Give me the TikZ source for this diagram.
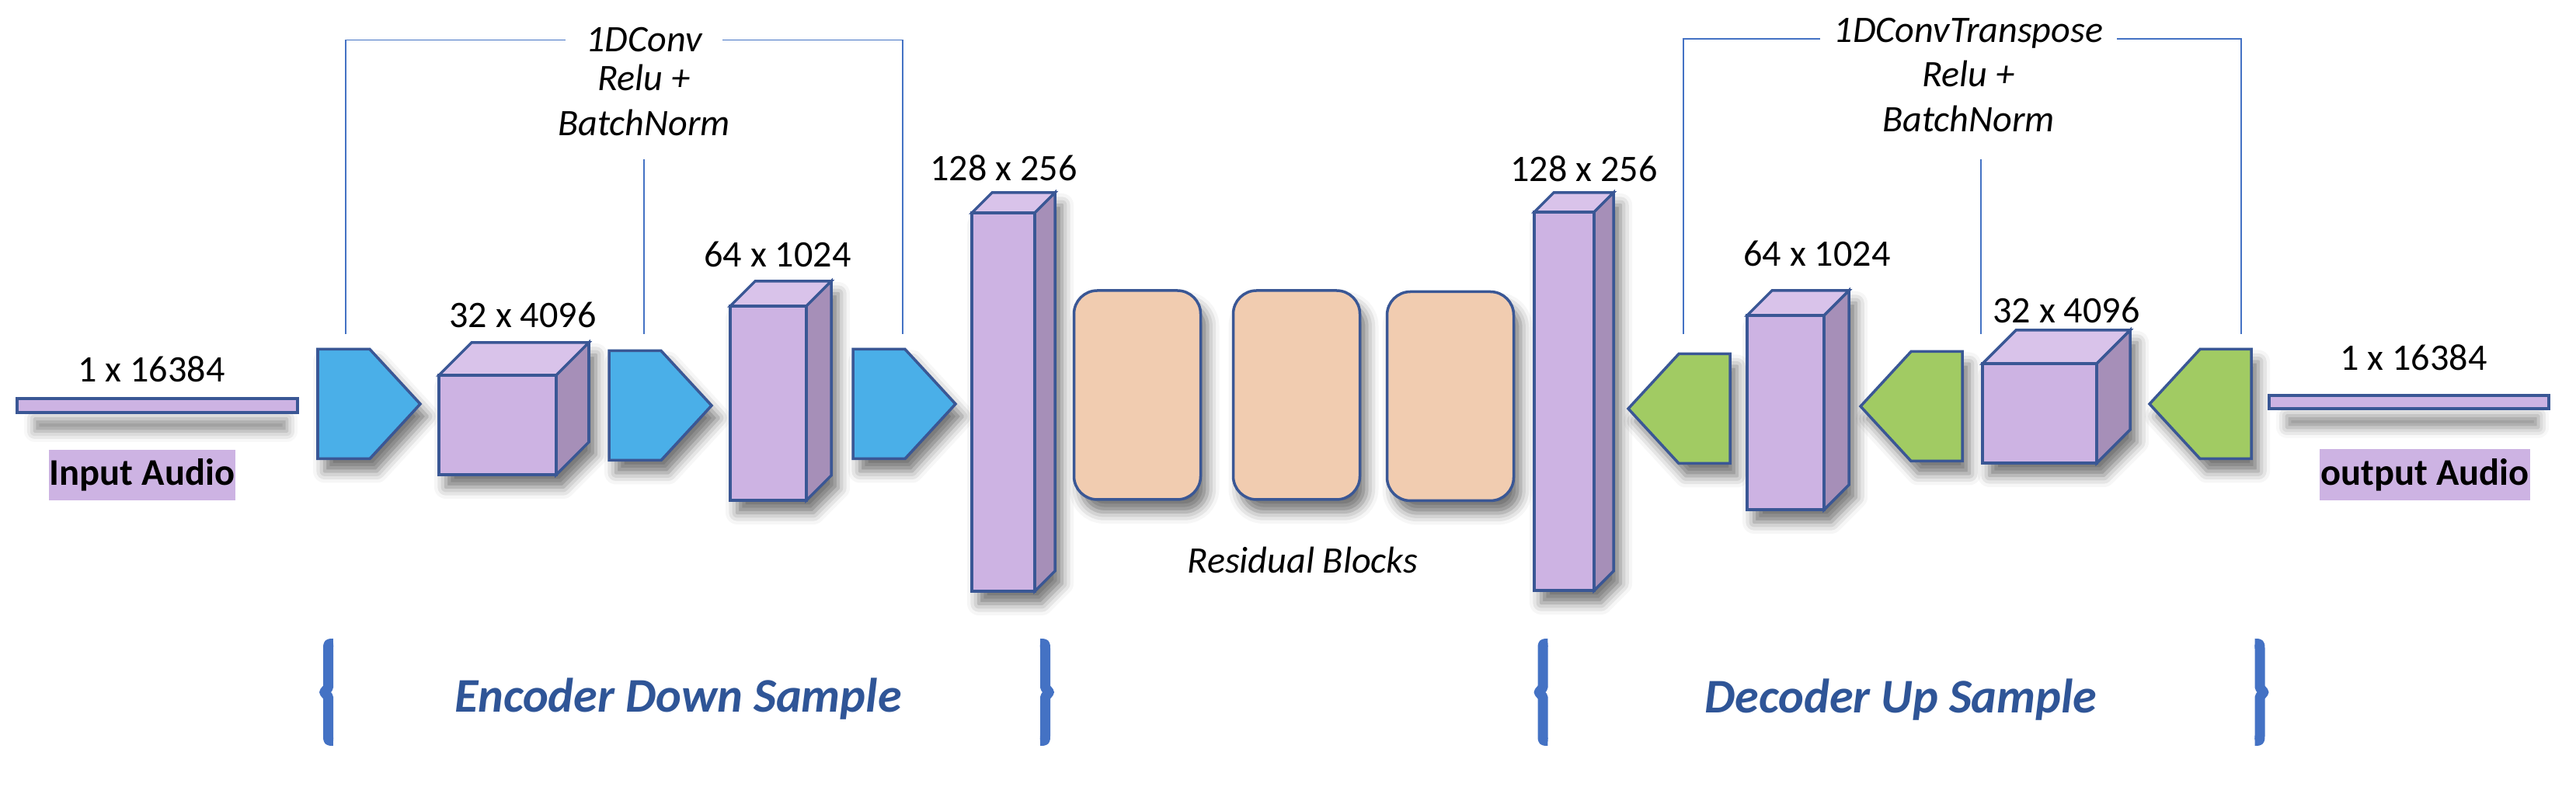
\documentclass[tikz,border=0pt]{standalone}
\usepackage{fontspec}
\setmainfont{Carlito}
\usetikzlibrary{shadows.blur}

\definecolor{edgeblue}{HTML}{3A5795}
\definecolor{downblue}{HTML}{4AAFE8}
\definecolor{upgreen}{HTML}{A1CB63}
\definecolor{facelilac}{HTML}{CDB3E3}
\definecolor{toplilac}{HTML}{D9C3EA}
\definecolor{sidelilac}{HTML}{A68FB8}
\definecolor{resfill}{HTML}{F1CCB0}
\definecolor{guideblue}{HTML}{4472C4}
\definecolor{titleblue}{HTML}{2F5597}

\tikzset{
	outline/.style={draw=edgeblue, line width=1pt},
	softshadow/.style={blur shadow={shadow xshift=0.09cm, shadow yshift=-0.16cm, shadow blur radius=0.15cm, shadow opacity=55}},
	barshadow/.style={blur shadow={shadow xshift=0.05cm, shadow yshift=-0.28cm, shadow blur radius=0.15cm, shadow opacity=45, shadow scale=0.9}},
	guide/.style={draw=guideblue, line width=0.5pt},
	brace/.style={draw=guideblue, line width=0.13cm, line join=round},
	dimlabel/.style={font=\fontsize{13.7}{16}\selectfont},
	oplabel/.style={font=\fontsize{13.7}{16}\selectfont\itshape, anchor=base},
	stagelabel/.style={font=\fontsize{17.7}{20}\selectfont\bfseries\itshape, text=titleblue, anchor=base},
	audiotag/.style={fill=facelilac, font=\fontsize{13.8}{16}\selectfont\bfseries, inner xsep=0pt, minimum height=0.57cm},
	resblock/.style={outline, fill=resfill, rounded corners=0.3cm, minimum width=1.63cm, minimum height=2.69cm, softshadow},
	pics/downconv/.style={code={
		\draw[outline, fill=downblue, softshadow] (0,0.705) -- (0.67,0.705) -- (1.32,0) -- (0.67,-0.705) -- (0,-0.705) -- cycle;
	}},
	pics/upconv/.style={code={
		\draw[outline, fill=upgreen, softshadow] (0,0.705) -- (-0.66,0.705) -- (-1.31,0) -- (-0.66,-0.705) -- (0,-0.705) -- cycle;
	}},
	pics/featuremap/.style n args={3}{code={
		\path[softshadow, fill=facelilac] (0,0) -- (#1,0) -- ++(#3,#3) -- ++(0,#2) -- ++(-#1,0) -- ++(-#3,-#3) -- cycle;
		\draw[outline, fill=toplilac] (0,#2) -- ++(#3,#3) -- ++(#1,0) -- (#1,#2) -- cycle;
		\draw[outline, fill=sidelilac] (#1,0) -- ++(#3,#3) -- ++(0,#2) -- (#1,#2) -- cycle;
		\draw[outline, fill=facelilac] (0,0) rectangle (#1,#2);
	}},
	% curly brace, #1 = +1 opens right, -1 opens left
	pics/stagebrace/.style={code={
		\draw[brace] (#1*0.065,0.625) .. controls (0,0.625) .. (0,0.56) -- (0,0.06) -- (-#1*0.05,0) -- (0,-0.06) -- (0,-0.56) .. controls (0,-0.625) .. (#1*0.065,-0.625);
	}},
}

\begin{document}
\begin{tikzpicture}
	\useasboundingbox (0,0) rectangle (33.16,10.22);

	% input signal
	\draw[line width=1.1pt, draw=edgeblue, fill=facelilac, barshadow] (0.22,4.91) rectangle (3.83,5.09);
	\node[dimlabel] (inlen) at (1.95,5.47) {1 x 16384};
	\node[audiotag, minimum width=2.40cm] (inaudio) at (1.83,4.105) {Input Audio};

	% encoder
	\pic (enc1) at (4.09,5.02) {downconv};
	\pic (map1) at (5.65,4.11) {featuremap={1.51}{1.28}{0.42}};
	\pic (enc2) at (7.84,5.00) {downconv};
	\pic (map2) at (9.40,3.78) {featuremap={0.98}{2.50}{0.32}};
	\pic (enc3) at (10.98,5.02) {downconv};
	\pic (map3) at (12.51,2.61) {featuremap={0.81}{4.87}{0.26}};
	\node[dimlabel] (map1lbl) at (6.73,6.17) {32 x 4096};
	\node[dimlabel] (map2lbl) at (10.01,6.95) {64 x 1024};
	\node[dimlabel] (map3lbl) at (12.92,8.06) {128 x 256};

	% residual blocks
	\node[resblock] (res1) at (14.64,5.135) {};
	\node[resblock] (res2) at (16.69,5.135) {};
	\node[resblock] (res3) at (18.67,5.12) {};
	\node[dimlabel, font=\fontsize{13.7}{16}\selectfont\itshape] (reslbl) at (16.77,3.01) {Residual Blocks};

	% decoder
	\pic (map4) at (19.75,2.62) {featuremap={0.77}{4.87}{0.25}};
	\pic (dec1) at (22.27,4.96) {upconv};
	\pic (map5) at (22.49,3.66) {featuremap={0.99}{2.50}{0.32}};
	\pic (dec2) at (25.26,4.99) {upconv};
	\pic (map6) at (25.52,4.26) {featuremap={1.47}{1.28}{0.43}};
	\pic (dec3) at (28.98,5.02) {upconv};
	\node[dimlabel] (map4lbl) at (20.39,8.05) {128 x 256};
	\node[dimlabel] (map5lbl) at (23.39,6.96) {64 x 1024};
	\node[dimlabel] (map6lbl) at (26.60,6.23) {32 x 4096};

	% output signal
	\draw[line width=1.1pt, draw=edgeblue, fill=facelilac, barshadow] (29.21,4.96) rectangle (32.81,5.13);
	\node[dimlabel] (outlen) at (31.07,5.62) {1 x 16384};
	\node[audiotag, minimum width=2.71cm] (outaudio) at (31.215,4.11) {output Audio};

	% encoder operation
	\node[oplabel, inner xsep=0.26cm] (encop) at (8.29,9.55) {1DConv};
	\node[oplabel] (encrelu) at (8.29,9.05) {Relu +};
	\node[oplabel] (encbn) at (8.29,8.47) {BatchNorm};
	\coordinate (encA) at (4.45,5.92);
	\coordinate (encB) at (8.29,5.92);
	\coordinate (encC) at (11.62,5.92);
	\draw[guide] (encA) |- (encop.west);
	\draw[guide] (encC) |- (encop.east);
	\draw[guide] (encB) -- (8.29,8.17);

	% decoder operation
	\node[oplabel, inner xsep=0.17cm] (decop) at (25.34,9.67) {1DConvTranspose};
	\node[oplabel] (decrelu) at (25.34,9.10) {Relu +};
	\node[oplabel] (decbn) at (25.34,8.52) {BatchNorm};
	\coordinate (decA) at (21.67,5.92);
	\coordinate (decB) at (25.50,5.92);
	\coordinate (decC) at (28.85,5.92);
	\draw[guide] (decA) |- ([yshift=-0.07cm]decop.west);
	\draw[guide] (decC) |- ([yshift=-0.07cm]decop.east);
	\draw[guide] (decB) -- (25.50,8.17);

	% stages
	\pic (encopen) at (4.225,1.31) {stagebrace=1};
	\pic (encclose) at (13.455,1.31) {stagebrace=-1};
	\node[stagelabel] (enclbl) at (8.73,1.05) {Encoder Down Sample};
	\pic (decopen) at (19.86,1.31) {stagebrace=1};
	\pic (decclose) at (29.09,1.31) {stagebrace=-1};
	\node[stagelabel] (declbl) at (24.47,1.04) {Decoder Up Sample};
\end{tikzpicture}
\end{document}
